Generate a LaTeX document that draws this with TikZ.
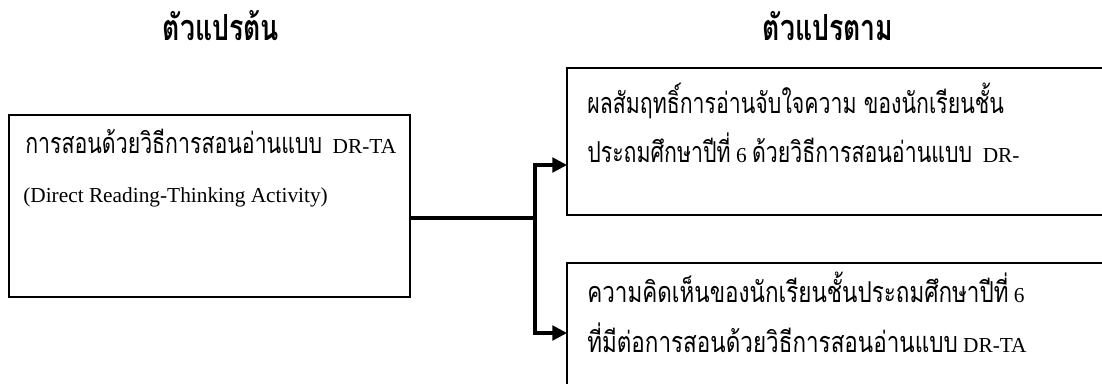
\documentclass[tikz,border=0pt]{standalone}
\usepackage{fontspec}
\setmainfont{Liberation Serif}
\newfontfamily\thaifont[Script=Thai, Scale=1.35, FakeStretch=0.74]{Loma}
\newfontfamily\thaiwide[Script=Thai, Scale=1.35, FakeStretch=0.78]{Loma}
\usetikzlibrary{arrows.meta, positioning}

\begin{document}
\begin{tikzpicture}[
            x=0.75pt, y=-0.75pt, % one unit is one pixel of the reference
            varbox/.style={draw, line width=1.3pt, inner sep=0pt}, % frame round a variable
            boxtext/.style={anchor=base west, inner sep=0pt, font=\fontsize{16}{20}\selectfont}, % one line of text
            headtext/.style={anchor=base, inner sep=0pt, font=\fontsize{20}{24}\selectfont\bfseries\thaifont}, % column heading
            link/.style={line width=2.3pt}, % connector
            arrowlink/.style={link, -{Triangle[length=11pt, width=11pt]}}
            ]
    \useasboundingbox (0,0) rectangle (1102,383);
    \clip (0,0) rectangle (1102,383);

    % Headings
    \node[headtext] (headin) at (221,40) {ตัวแปรต้น};
    \node[headtext] (headout) at (828,40) {ตัวแปรตาม};

    % Frames
    \node[varbox, minimum width=300.75pt, minimum height=136.5pt] (indep) at (209.5,206) {};
    \node[varbox, minimum width=422.25pt, minimum height=110.25pt] (depone) at (848.5,141.5) {};
    \node[varbox, minimum width=422.25pt, minimum height=117.75pt] (deptwo) at (848.5,341.5) {};

    % Texts
    \node[boxtext] (indepa) at (25,153) {{\thaifont การสอนด้วยวิธีการสอนอ่านแบบ}\ \ DR-TA};
    \node[boxtext] (indepb) at (23,202) {(Direct Reading-Thinking Activity)};
    \node[boxtext] (deponea) at (587,113) {\thaifont ผลสัมฤทธิ์การอ่านจับใจความ ของนักเรียนชั้น};
    \node[boxtext] (deponeb) at (587,162) {{\thaifont ประถมศึกษาปีที่} 6 {\thaifont ด้วยวิธีการสอนอ่านแบบ}\ \ DR-};
    \node[boxtext] (deptwoa) at (587,302) {{\thaiwide ความคิดเห็นของนักเรียนชั้นประถมศึกษาปีที่} 6};
    \node[boxtext] (deptwob) at (587,352) {{\thaiwide ที่มีต่อการสอนด้วยวิธีการสอนอ่านแบบ} DR-TA};

    % Connectors
    \coordinate (split) at (535,218);
    \coordinate (deponein) at (567,165);
    \coordinate (deptwoin) at (567,333);
    \draw[link] (indep.east |- split) -- (split);
    \draw[arrowlink] (split) |- (deponein);
    \draw[arrowlink] (split) |- (deptwoin);
\end{tikzpicture}
\end{document}
